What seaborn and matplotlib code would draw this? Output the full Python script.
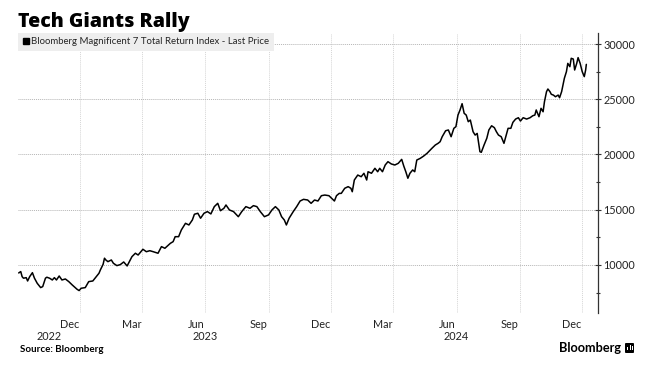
import matplotlib
matplotlib.use("Agg")
import matplotlib.pyplot as plt
import matplotlib.dates as mdates
from matplotlib.lines import Line2D
from matplotlib.patches import FancyBboxPatch, Rectangle
from matplotlib.ticker import MultipleLocator, FixedLocator
import matplotlib.transforms as mtransforms
import pandas as pd
import seaborn as sns

title = "Tech Giants Rally"
series_name = "Bloomberg Magnificent 7 Total Return Index - Last Price"
source = "Source: Bloomberg"
brand = "Bloomberg"

dates = [
    "2022-09-02", "2022-09-05", "2022-09-07", "2022-09-09", "2022-09-13", "2022-09-15",
    "2022-09-18", "2022-09-22", "2022-09-25", "2022-09-29", "2022-10-04", "2022-10-07",
    "2022-10-11", "2022-10-13", "2022-10-17", "2022-10-21", "2022-10-24", "2022-10-27",
    "2022-10-31", "2022-11-04", "2022-11-09", "2022-11-14", "2022-11-19", "2022-11-26",
    "2022-11-29", "2022-12-02", "2022-12-08", "2022-12-13", "2022-12-19", "2022-12-24",
    "2022-12-28", "2022-12-30", "2023-01-03", "2023-01-05", "2023-01-07", "2023-01-10",
    "2023-01-15", "2023-01-18", "2023-01-23", "2023-01-28", "2023-02-02", "2023-02-07",
    "2023-02-14", "2023-02-19", "2023-02-23", "2023-03-02", "2023-03-07", "2023-03-12",
    "2023-03-17", "2023-03-24", "2023-03-29", "2023-04-03", "2023-04-11", "2023-04-15",
    "2023-04-18", "2023-04-23", "2023-04-27", "2023-05-03", "2023-05-08", "2023-05-13",
    "2023-05-16", "2023-05-21", "2023-05-25", "2023-05-30", "2023-06-04", "2023-06-09",
    "2023-06-14", "2023-06-19", "2023-06-23", "2023-06-28", "2023-07-01", "2023-07-06",
    "2023-07-12", "2023-07-19", "2023-07-24", "2023-07-30", "2023-08-05", "2023-08-10",
    "2023-08-15", "2023-08-20", "2023-08-26", "2023-09-01", "2023-09-06", "2023-09-11",
    "2023-09-16", "2023-09-20", "2023-09-24", "2023-09-27", "2023-10-01", "2023-10-07",
    "2023-10-12", "2023-10-17", "2023-10-22", "2023-10-28", "2023-11-02", "2023-11-07",
    "2023-11-12", "2023-11-17", "2023-11-22", "2023-11-28", "2023-12-02", "2023-12-06",
    "2023-12-09", "2023-12-13", "2023-12-16", "2023-12-21", "2023-12-26", "2023-12-30",
    "2024-01-01", "2024-01-04", "2024-01-09", "2024-01-14", "2024-01-18", "2024-01-22",
    "2024-01-24", "2024-01-29", "2024-02-03", "2024-02-07", "2024-02-10", "2024-02-14",
    "2024-02-18", "2024-02-22", "2024-02-27", "2024-03-03", "2024-03-08", "2024-03-13",
    "2024-03-16", "2024-03-19", "2024-03-22", "2024-03-25", "2024-03-29", "2024-04-01",
    "2024-04-04", "2024-04-09", "2024-04-14", "2024-04-19", "2024-04-26", "2024-05-01",
    "2024-05-05", "2024-05-08", "2024-05-11", "2024-05-16", "2024-05-20", "2024-05-24",
    "2024-05-28", "2024-05-31", "2024-06-03", "2024-06-06", "2024-06-09", "2024-06-12",
    "2024-06-15", "2024-06-18", "2024-06-21", "2024-06-25", "2024-06-28", "2024-07-01",
    "2024-07-05", "2024-07-07", "2024-07-11", "2024-07-15", "2024-07-18", "2024-07-22",
    "2024-07-26", "2024-07-29", "2024-08-01", "2024-08-05", "2024-08-09", "2024-08-11",
    "2024-08-15", "2024-08-19", "2024-08-22", "2024-08-26", "2024-08-30", "2024-09-02",
    "2024-09-06", "2024-09-11", "2024-09-16", "2024-09-20", "2024-09-23", "2024-09-25",
    "2024-09-29", "2024-10-02", "2024-10-05", "2024-10-07", "2024-10-10", "2024-10-12",
    "2024-10-15", "2024-10-17", "2024-10-20", "2024-10-23", "2024-10-27", "2024-10-29",
    "2024-11-01", "2024-11-05", "2024-11-08", "2024-11-10", "2024-11-13", "2024-11-15",
    "2024-11-18", "2024-11-20", "2024-11-23", "2024-11-25", "2024-11-28", "2024-12-01",
    "2024-12-04", "2024-12-06", "2024-12-07",
]

values = [
    9276, 9400, 8940, 8800, 8850, 8550,
    8940, 9300, 8800, 8340, 7950, 8040,
    8800, 8890, 8800, 8640, 8850, 8640,
    9000, 8640, 8730, 8490, 8190, 7800,
    7680, 7890, 7950, 8490, 8550, 8940,
    9250, 9550, 10060, 10610, 10450, 10300,
    10450, 10150, 9940, 10030, 10270, 9910,
    10750, 11060, 10900, 11420, 11200, 11290,
    11200, 11060, 11660, 11510, 11960, 12110,
    12560, 12560, 13170, 13770, 13620, 14070,
    14590, 14680, 14230, 14680, 14830, 14620,
    15280, 15580, 14910, 15130, 15430, 14980,
    14830, 14370, 14830, 15280, 15130, 15370,
    15280, 14830, 14370, 14530, 14980, 15280,
    14980, 14370, 14070, 13620, 14230, 14830,
    15280, 15790, 15940, 15880, 15580, 15880,
    15790, 16270, 16330, 16270, 16030, 15790,
    16270, 16480, 16480, 16940, 17090, 16940,
    16630, 17690, 18140, 17990, 18300, 17690,
    18440, 18300, 18750, 18440, 18750, 18440,
    19050, 19350, 19140, 19050, 19200, 19560,
    18960, 18440, 17850, 18300, 18600, 18440,
    19500, 19650, 19860, 20110, 20560, 20860,
    21010, 21160, 21610, 22150, 22220, 21610,
    22370, 22520, 23570, 24030, 24600, 23730,
    23570, 22970, 23120, 22060, 21760, 21910,
    20250, 20200, 20860, 21470, 22220, 22600,
    22430, 22060, 21760, 21610, 21010, 21470,
    22370, 22370, 22910, 23210, 23330, 23030,
    23330, 23210, 23330, 23510, 23570, 24030,
    23420, 24180, 23870, 24780, 25690, 25930,
    25690, 25450, 25380, 25230, 25380, 25140,
    25690, 26900, 27500, 28250, 27950, 28710,
    28640, 27650, 28250, 28770, 28250, 27500,
    27050, 27650, 28160,
]

month_ticks = ["2022-12-01", "2023-03-01", "2023-06-01", "2023-09-01", "2023-12-01",
               "2024-03-01", "2024-06-01", "2024-09-01", "2024-12-01"]
year_labels = ["2022", "2023", "2024"]
year_label_dates = ["2022-10-16", "2023-06-01", "2024-06-01"]

df = pd.DataFrame({"date": pd.to_datetime(dates), "value": values})

sns.set_theme(style="white")
plt.rcParams["font.family"] = ["Lato", "DejaVu Sans"]

fig = plt.figure(figsize=(6.56, 3.66), dpi=100)
ax = fig.add_axes([18 / 656, 1 - 313 / 366, (598 - 18) / 656, (313 - 33) / 366])

sns.lineplot(data=df, x="date", y="value", ax=ax, color="black", linewidth=1.1)

ax.set_xlim(pd.Timestamp("2022-09-01"), pd.Timestamp("2024-12-24"))
ax.set_ylim(5650, 31000)

# Y axis on right
ax.yaxis.tick_right()
ax.set_yticks([10000, 15000, 20000, 25000, 30000])
ax.yaxis.set_minor_locator(MultipleLocator(2500))
ax.yaxis.set_major_formatter(matplotlib.ticker.FuncFormatter(lambda v, p: f"{int(v)}"))
ax.tick_params(axis="y", which="major", direction="inout", length=4, width=0.8,
               color="#333333", labelsize=7.8, pad=2, labelcolor="#222222")
ax.tick_params(axis="y", which="minor", direction="inout", length=3, width=0.8,
               color="#333333")
ax.tick_params(axis="y", which="both", left=False, right=True)

# X axis month ticks
ax.xaxis.set_major_locator(FixedLocator(mdates.date2num(pd.to_datetime(month_ticks))))
ax.xaxis.set_major_formatter(mdates.DateFormatter("%b"))
ax.tick_params(axis="x", length=0, labelsize=7.8, pad=4, labelcolor="#222222")
offset = mtransforms.ScaledTranslation(-1 / 100, 0, fig.dpi_scale_trans)
for lbl in ax.get_xticklabels():
    lbl.set_ha("right")
    lbl.set_transform(lbl.get_transform() + offset)

ax.set_xlabel("")
ax.set_ylabel("")

# Grid
ax.grid(True, axis="y", linestyle=(0, (1, 1)), color="#b5b5b5", linewidth=0.7)
ax.grid(True, axis="x", linestyle=(0, (1, 1)), color="#d5d5d5", linewidth=0.7)

for s in ["top", "left", "bottom"]:
    ax.spines[s].set_visible(False)
ax.spines["right"].set_color("#333333")
ax.spines["right"].set_linewidth(0.9)

# Year labels
trans = mtransforms.blended_transform_factory(ax.transData, ax.transAxes)
for yl, yd in zip(year_labels, year_label_dates):
    ax.text(mdates.date2num(pd.Timestamp(yd)), -0.085, yl, transform=trans,
            ha="center", va="center", fontsize=7.8, color="#222222")

# Legend
handle = Line2D([], [], marker="s", linestyle="none", color="black", markersize=4.5)
leg = ax.legend(handles=[handle], labels=[series_name], loc="upper left",
                bbox_to_anchor=(0, 1), borderaxespad=0, frameon=True,
                fancybox=False, handletextpad=0.15, handlelength=0.8,
                borderpad=0.45, fontsize=6.9, facecolor="#eeeeee",
                edgecolor="#eeeeee", framealpha=1)
leg.get_frame().set_linewidth(0)

# Title and footer
fig.text(18 / 656, 1 - 27 / 366, title, fontsize=14, fontweight="heavy",
         family=["Open Sans", "DejaVu Sans"],
         ha="left", va="baseline", color="black")
fig.text(20 / 656, 1 - 352 / 366, source, fontsize=7, fontweight="bold",
         ha="left", va="baseline", color="black")
fig.text(621 / 656, 1 - 352 / 366, brand, fontsize=9.2, fontweight="bold",
         ha="right", va="baseline", color="black")
icon = FancyBboxPatch((625 / 656, 1 - 353 / 366), 9 / 656, 10 / 366,
                      boxstyle="round,pad=0,rounding_size=0.002",
                      transform=fig.transFigure, facecolor="black",
                      edgecolor="none")
fig.patches.append(icon)
for bx, bh in [(627, 3), (629.5, 5), (632, 4)]:
    fig.patches.append(Rectangle((bx / 656, 1 - 350 / 366), 1.2 / 656, bh / 366,
                                 transform=fig.transFigure, facecolor="white",
                                 edgecolor="none"))

fig.savefig("out.png", dpi=100)
